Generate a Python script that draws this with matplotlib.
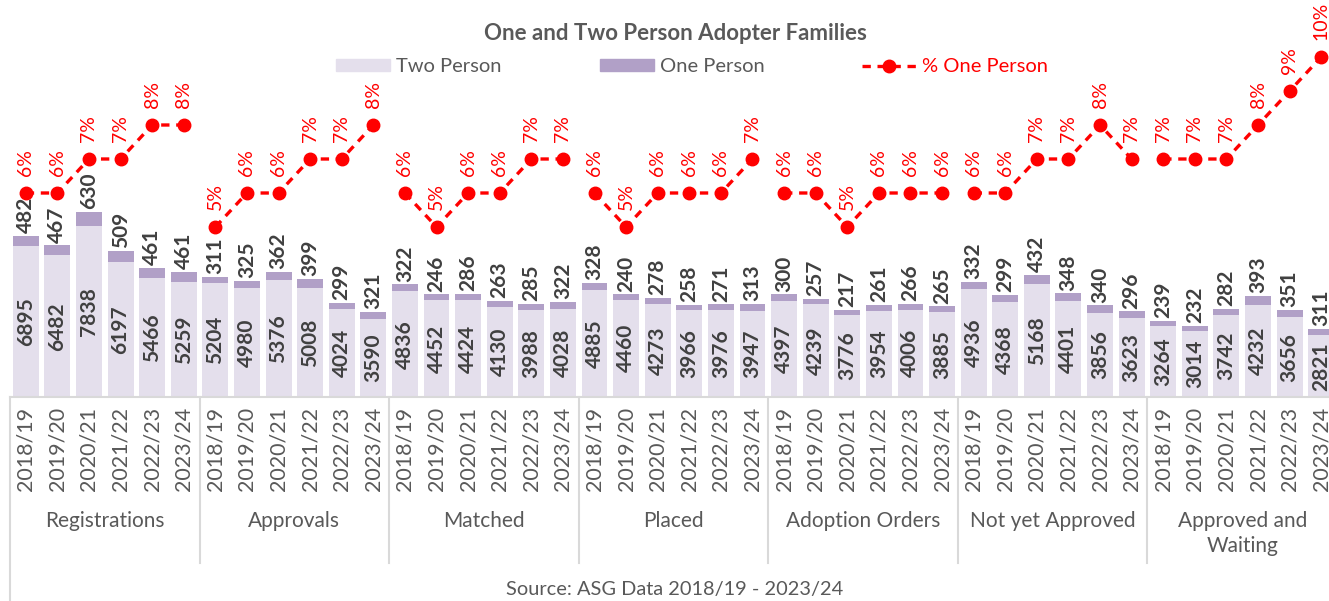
import matplotlib.pyplot as plt
from matplotlib.lines import Line2D
from matplotlib.patches import Patch
from matplotlib.transforms import blended_transform_factory
import numpy as np

plt.rcParams['font.family'] = ['Lato', 'DejaVu Sans']

groups = ['Registrations', 'Approvals', 'Matched', 'Placed',
          'Adoption Orders', 'Not yet Approved', 'Approved and\nWaiting']
years = ['2018/19', '2019/20', '2020/21', '2021/22', '2022/23', '2023/24']

two_person = [6895, 6482, 7838, 6197, 5466, 5259,
              5204, 4980, 5376, 5008, 4024, 3590,
              4836, 4452, 4424, 4130, 3988, 4028,
              4885, 4460, 4273, 3966, 3976, 3947,
              4397, 4239, 3776, 3954, 4006, 3885,
              4936, 4368, 5168, 4401, 3856, 3623,
              3264, 3014, 3742, 4232, 3656, 2821]
one_person = [482, 467, 630, 509, 461, 461,
              311, 325, 362, 399, 299, 321,
              322, 246, 286, 263, 285, 322,
              328, 240, 278, 258, 271, 313,
              300, 257, 217, 261, 266, 265,
              332, 299, 432, 348, 340, 296,
              239, 232, 282, 393, 351, 311]
pct_one = [6, 6, 7, 7, 8, 8,
           5, 6, 6, 7, 7, 8,
           6, 5, 6, 6, 7, 7,
           6, 5, 6, 6, 6, 7,
           6, 6, 5, 6, 6, 6,
           6, 6, 7, 7, 8, 7,
           7, 7, 7, 8, 9, 10]

c_two = '#E4DFEC'
c_one = '#B1A0C7'
c_red = '#FF0000'
c_txt = '#404040'
c_lbl = '#595959'
c_grid = '#D9D9D9'

W, H = 1329, 601
fig = plt.figure(figsize=(W / 100, H / 100), dpi=100)
ax_left, ax_right, ax_bot, ax_top = 10, 1337, 397, 20
ax = fig.add_axes([ax_left / W, (H - ax_bot) / H,
                   (ax_right - ax_left) / W, (ax_bot - ax_top) / H])
ax2 = ax.twinx()

ny = len(years)
x = np.arange(len(two_person))
ax.bar(x, two_person, width=0.82, color=c_two, zorder=2)
ax.bar(x, one_person, width=0.82, bottom=two_person, color=c_one, zorder=2)

for i in range(len(x)):
    ax.text(x[i], two_person[i] / 2, str(two_person[i]), rotation=90,
            ha='center', va='center', fontsize=15, fontweight='bold',
            color=c_txt)
    ax.annotate(str(one_person[i]), (x[i], two_person[i] + one_person[i]),
                xytext=(0, 2), textcoords='offset points', rotation=90,
                ha='center', va='bottom', fontsize=15, fontweight='bold',
                color=c_txt)

dash = (0, (2.5, 2))
for g in range(len(groups)):
    xs = x[g * ny:(g + 1) * ny]
    ys = pct_one[g * ny:(g + 1) * ny]
    ax2.plot(xs, ys, color=c_red, ls=dash, lw=2.4, marker='o',
             ms=9, zorder=3, clip_on=False)
    for xi, yi in zip(xs, ys):
        ax2.annotate(f'{yi}%', (xi, yi), xytext=(0, 12),
                     textcoords='offset points', rotation=90, ha='center',
                     va='bottom', fontsize=14, color=c_red,
                     annotation_clip=False)

ax.set_xlim(-0.5, len(x) - 0.5)
ax.set_ylim(0, (ax_bot - ax_top) / 0.02183)
ax2.set_ylim(0, (ax_bot - ax_top) / 34.0)
ax.set_yticks([])
ax2.set_yticks([])
for a in (ax, ax2):
    for s in a.spines.values():
        s.set_visible(False)

ax.set_xticks(x)
ax.set_xticklabels(years * len(groups), rotation=90, fontsize=15.5,
                   color=c_lbl)
ax.tick_params(axis='x', length=0, pad=7)

# category axis lines and group labels
tr = blended_transform_factory(ax.transData, fig.transFigure)
fy = lambda py: (H - py) / H
ax.add_line(Line2D([-0.5, len(x) - 0.5], [fy(ax_bot)] * 2, transform=tr,
                   color=c_grid, lw=1.5, clip_on=False))
for g in range(len(groups) + 1):
    xb = g * ny - 0.5
    y_end = fy(601) if g == 0 else fy(563)
    ax.add_line(Line2D([xb, xb], [fy(ax_bot), y_end], transform=tr,
                       color=c_grid, lw=1.5, clip_on=False))
for g, name in enumerate(groups):
    ax.text(g * ny + (ny - 1) / 2, fy(511), name, transform=tr,
            ha='center', va='top', fontsize=15, color=c_lbl,
            linespacing=1.3)

fig.text(675 / W, fy(33), 'One and Two Person Adopter Families',
         ha='center', va='center', fontsize=16, fontweight='bold',
         color=c_lbl)
fig.text(675 / W, fy(590), 'Source: ASG Data 2018/19 - 2023/24',
         ha='center', va='center', fontsize=14.4, color=c_lbl)

# legend, one entry at a time so each sits where it does in the original
leg_items = [(Patch(color=c_two), 'Two Person', c_lbl, 336),
             (Patch(color=c_one), 'One Person', c_lbl, 600),
             (Line2D([], [], color=c_red, ls=dash, lw=2.4, marker='o', ms=9),
              '% One Person', c_red, 862)]
for h, lab, col, px in leg_items:
    leg = fig.legend([h], [lab], loc='center left',
                     bbox_to_anchor=(px / W, fy(67)), frameon=False,
                     fontsize=14.5, handlelength=2.7, handleheight=0.55,
                     handletextpad=0.3, borderpad=0, borderaxespad=0)
    leg.get_texts()[0].set_color(col)

fig.savefig('out.png', dpi=100)
